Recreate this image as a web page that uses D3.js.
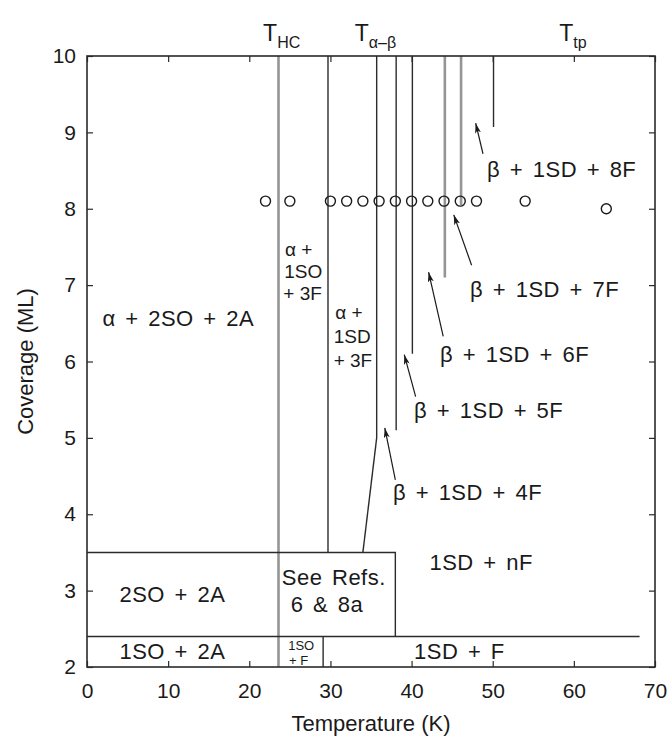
<!DOCTYPE html>
<html>
<head>
<meta charset="utf-8">
<script src="https://cdn.jsdelivr.net/npm/d3@7/dist/d3.min.js"></script>
<style>
  body { margin: 0; background: #fff; }
  svg text { font-family: "Liberation Sans", Arial, Helvetica, sans-serif; fill: #1a1a1a; }
</style>
</head>
<body>
<svg id="chart" width="671" height="742"></svg>
<script>
//---- Data -------------------------------------------------------------------
var xTicks = [0, 10, 20, 30, 40, 50, 60, 70];
var yTicks = [2, 3, 4, 5, 6, 7, 8, 9, 10];

// measured points: temperature (K), coverage (ML)
var pointT   = [22, 25, 30, 32, 34, 36, 38, 40, 42, 44, 46, 48, 54, 64];
var pointCov = [8.1, 8.1, 8.1, 8.1, 8.1, 8.1, 8.1, 8.1, 8.1, 8.1, 8.1, 8.1, 8.1, 8.0];

// vertical phase boundaries: temperature, coverage at lower end, coverage at upper end
var boundT    = [23.6, 29.7, 35.7, 38.1, 40.1, 44.1, 46.1, 50.1];
var boundLow  = [2.0, 3.5, 5.0, 5.1, 6.1, 7.1, 8.05, 9.07];
var boundHigh = [10, 10, 10, 10, 10, 10, 10, 10];
var boundGray = [true, false, false, false, false, true, true, false];

// other boundaries (polylines in T, coverage)
var boundPaths = [
  [[35.7, 5.0], [34.0, 3.5]],
  [[0, 3.5], [38.0, 3.5], [38.0, 2.4]],
  [[0, 2.4], [68.1, 2.4]],
  [[29.1, 2.4], [29.1, 2.0]]
];

// phase region labels
var regionText = ["\u03b1 + 2SO + 2A", "2SO + 2A", "1SO + 2A", "See Refs.", "6 & 8a", "1SD + nF", "1SD + F"];
var regionT    = [1.9, 4.0, 4.0, 24.0, 25.1, 42.2, 40.3];
var regionCov  = [6.46, 2.85, 2.11, 3.08, 2.72, 3.27, 2.11];

// stacked labels in the narrow strips (one entry per line)
var stackText = ["\u03b1 +", "1SO", "+ 3F", "\u03b1 +", "1SD", "+ 3F"];
var stackT    = [24.4, 24.3, 24.2, 30.6, 30.4, 30.4];
var stackCov  = [7.38, 7.09, 6.80, 6.55, 6.24, 5.93];

// small label inside the narrow box
var smallText = ["1SO", "+ F"];
var smallT    = [24.8, 24.9];
var smallCov  = [2.22, 2.02];

// arrowed labels
var arrowText = ["\u03b2 + 1SD + 8F", "\u03b2 + 1SD + 7F", "\u03b2 + 1SD + 6F", "\u03b2 + 1SD + 5F", "\u03b2 + 1SD + 4F"];
var labelT    = [49.3, 47.2, 43.5, 40.3, 37.7];
var labelCov  = [8.42, 6.84, 6.0, 5.26, 4.19];
var tailT     = [48.8, 47.4, 43.9, 40.5, 38.0];
var tailCov   = [8.72, 7.26, 6.33, 5.54, 4.45];
var tipT      = [47.9, 45.2, 42.1, 39.1, 36.7];
var tipCov    = [9.12, 7.92, 7.17, 6.09, 5.13];

// transition temperature labels at the top
var transSub = ["HC", "\u03b1\u2013\u03b2", "tp"];
var transT   = [21.7, 33.0, 58.2];

//---- Layout -----------------------------------------------------------------
var margin = { top: 56, right: 16, bottom: 75, left: 87 };
var W = 671, H = 742;
var svg = d3.select("#chart");

var x = d3.scaleLinear().domain([0, 70]).range([margin.left, W - margin.right]);
var y = d3.scaleLinear().domain([2, 10]).range([H - margin.bottom, margin.top]);

var frameColor = "#2a2a2a";

// phase boundaries
var lines = d3.range(boundT.length);
svg.append("g").selectAll("line")
  .data(lines)
  .enter().append("line")
  .attr("x1", i => x(boundT[i])).attr("x2", i => x(boundT[i]))
  .attr("y1", i => y(boundHigh[i])).attr("y2", i => y(boundLow[i]))
  .attr("stroke", i => boundGray[i] ? "#959595" : "#2b2b2b")
  .attr("stroke-width", i => boundGray[i] ? 2.6 : 1.4);

var line = d3.line().x(d => x(d[0])).y(d => y(d[1]));
svg.append("g").selectAll("path")
  .data(boundPaths)
  .enter().append("path")
  .attr("d", line)
  .attr("fill", "none")
  .attr("stroke", "#2b2b2b")
  .attr("stroke-width", 1.4);

// data points
svg.append("g").selectAll("circle")
  .data(pointT)
  .enter().append("circle")
  .attr("cx", (d, i) => x(d))
  .attr("cy", (d, i) => y(pointCov[i]))
  .attr("r", 5)
  .attr("fill", "none")
  .attr("stroke", "#1a1a1a")
  .attr("stroke-width", 1.4);

// axes with inward ticks on all four sides
var tickLen = 6;
svg.append("g")
  .attr("transform", "translate(0," + y(2) + ")")
  .call(d3.axisBottom(x).tickValues(xTicks).tickSize(-tickLen).tickPadding(tickLen + 10))
  .call(g => g.select(".domain").remove());
svg.append("g")
  .attr("transform", "translate(0," + y(10) + ")")
  .call(d3.axisTop(x).tickValues(xTicks).tickSize(-tickLen).tickFormat(""))
  .call(g => g.select(".domain").remove());
svg.append("g")
  .attr("transform", "translate(" + x(0) + ",0)")
  .call(d3.axisLeft(y).tickValues(yTicks).tickSize(-tickLen).tickPadding(tickLen + 5))
  .call(g => g.select(".domain").remove());
svg.append("g")
  .attr("transform", "translate(" + x(70) + ",0)")
  .call(d3.axisRight(y).tickValues(yTicks).tickSize(-tickLen).tickFormat(""))
  .call(g => g.select(".domain").remove());

svg.selectAll(".tick line").attr("stroke", frameColor).attr("stroke-width", 1.2);
svg.selectAll(".tick text")
  .attr("font-size", 21)
  .attr("font-family", "'Liberation Sans', Arial, sans-serif")
  .attr("fill", "#1a1a1a");

// frame
svg.append("rect")
  .attr("x", x(0)).attr("y", y(10))
  .attr("width", x(70) - x(0)).attr("height", y(2) - y(10))
  .attr("fill", "none")
  .attr("stroke", frameColor)
  .attr("stroke-width", 1.6);

// region labels
svg.append("g").selectAll("text")
  .data(regionText)
  .enter().append("text")
  .attr("x", (d, i) => x(regionT[i]))
  .attr("y", (d, i) => y(regionCov[i]))
  .attr("font-size", 22)
  .attr("letter-spacing", 0.5)
  .attr("word-spacing", 3)
  .text(d => d);

svg.append("g").selectAll("text")
  .data(stackText)
  .enter().append("text")
  .attr("x", (d, i) => x(stackT[i]))
  .attr("y", (d, i) => y(stackCov[i]))
  .attr("font-size", 19)
  .text(d => d);

svg.append("g").selectAll("text")
  .data(smallText)
  .enter().append("text")
  .attr("x", (d, i) => x(smallT[i]))
  .attr("y", (d, i) => y(smallCov[i]))
  .attr("font-size", 13)
  .text(d => d);

// arrows
svg.append("defs").append("marker")
  .attr("id", "head")
  .attr("viewBox", "0 0 10 6")
  .attr("refX", 10).attr("refY", 3)
  .attr("markerWidth", 10).attr("markerHeight", 6)
  .attr("markerUnits", "userSpaceOnUse")
  .attr("orient", "auto")
  .append("path")
  .attr("d", "M0,0 L10,3 L0,6 L2.5,3 Z")
  .attr("fill", "#1a1a1a");

var arrows = d3.range(arrowText.length);
svg.append("g").selectAll("line")
  .data(arrows)
  .enter().append("line")
  .attr("x1", i => x(tailT[i])).attr("y1", i => y(tailCov[i]))
  .attr("x2", i => x(tipT[i])).attr("y2", i => y(tipCov[i]))
  .attr("stroke", "#1a1a1a")
  .attr("stroke-width", 1.2)
  .attr("marker-end", "url(#head)");

svg.append("g").selectAll("text")
  .data(arrowText)
  .enter().append("text")
  .attr("x", (d, i) => x(labelT[i]))
  .attr("y", (d, i) => y(labelCov[i]))
  .attr("font-size", 22)
  .attr("letter-spacing", 0.5)
  .attr("word-spacing", 3)
  .text(d => d);

// transition temperatures
var trans = svg.append("g").selectAll("text")
  .data(transSub)
  .enter().append("text")
  .attr("x", (d, i) => x(transT[i]))
  .attr("y", 41)
  .attr("font-size", 23);
trans.append("tspan").text("T");
trans.append("tspan").attr("dy", 7).attr("font-size", 16).text(d => d);

// axis titles
svg.append("text")
  .attr("x", (x(0) + x(70)) / 2)
  .attr("y", 731)
  .attr("text-anchor", "middle")
  .attr("font-size", 22)
  .text("Temperature (K)");

svg.append("text")
  .attr("transform", "translate(33," + ((y(2) + y(10)) / 2) + ") rotate(-90)")
  .attr("text-anchor", "middle")
  .attr("font-size", 22)
  .text("Coverage (ML)");
</script>
</body>
</html>
